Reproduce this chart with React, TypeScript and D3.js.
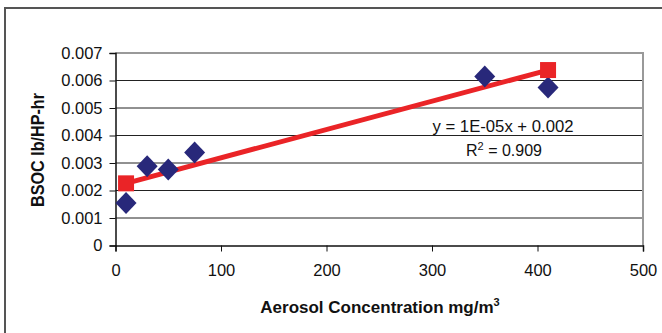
import React, { useEffect, useRef } from 'react';
import * as d3 from 'd3';

const measuredX = [10, 30, 50, 75, 350, 410];
const measuredY = [0.00155, 0.00288, 0.00276, 0.00338, 0.00615, 0.00575];
const fitX = [10, 410];
const fitY = [0.00226, 0.00638];
const xTicks = [0, 100, 200, 300, 400, 500];
const yTicks = [0, 0.001, 0.002, 0.003, 0.004, 0.005, 0.006, 0.007];

export default function App() {
  const svgRef = useRef<SVGSVGElement>(null);

  useEffect(() => {
    const svg = d3.select(svgRef.current);
    svg.selectAll('*').remove();

    const left = 115.5, right = 643, top = 53, bottom = 245.5;
    const x = d3.scaleLinear().domain([0, 500]).range([left, right]);
    const y = d3.scaleLinear().domain([0, 0.007]).range([bottom, top]);
    const font = 'Arial, "Liberation Sans", sans-serif';

    // outer frame
    svg.append('rect')
      .attr('x', 5).attr('y', 8).attr('width', 680).attr('height', 340)
      .attr('fill', 'white').attr('stroke', '#555').attr('stroke-width', 2);

    // gridlines
    svg.append('g').selectAll('line')
      .data(yTicks.slice(1))
      .enter().append('line')
      .attr('x1', left).attr('x2', right)
      .attr('y1', d => y(d)).attr('y2', d => y(d))
      .attr('stroke', '#222').attr('stroke-width', 1);

    // plot border top/right
    svg.append('path')
      .attr('d', `M${left},${top}H${right}V${bottom}`)
      .attr('fill', 'none').attr('stroke', '#999').attr('stroke-width', 2);

    const yAxis = svg.append('g')
      .attr('transform', `translate(${left},0)`)
      .call(d3.axisLeft(y).tickValues(yTicks).tickSize(6).tickPadding(7)
        .tickFormat(d => (d === 0 ? '0' : d3.format('.3f')(d as number))));
    const xAxis = svg.append('g')
      .attr('transform', `translate(0,${bottom})`)
      .call(d3.axisBottom(x).tickValues(xTicks).tickSize(6).tickPadding(13)
        .tickFormat(d3.format('d')));
    [yAxis, xAxis].forEach(a => {
      a.select('.domain').attr('stroke', '#111').attr('stroke-width', 1.5);
      a.selectAll('.tick line').attr('stroke', '#111');
      a.selectAll('text').attr('font-size', 16.5).attr('font-family', font).attr('fill', '#111');
    });

    // fit line
    svg.append('path')
      .datum(fitX.map((v, i) => [v, fitY[i]] as [number, number]))
      .attr('d', d3.line<[number, number]>().x(d => x(d[0])).y(d => y(d[1])))
      .attr('stroke', '#ea2427').attr('stroke-width', 5).attr('fill', 'none');

    // measured points (diamonds)
    svg.append('g').selectAll('path')
      .data(measuredX.map((v, i) => [v, measuredY[i]]))
      .enter().append('path')
      .attr('d', d => {
        const cx = x(d[0]), cy = y(d[1]);
        return `M${cx},${cy - 11}L${cx + 10.5},${cy}L${cx},${cy + 11}L${cx - 10.5},${cy}Z`;
      })
      .attr('fill', '#28287a');

    // fit points (squares)
    svg.append('g').selectAll('rect')
      .data(fitX.map((v, i) => [v, fitY[i]]))
      .enter().append('rect')
      .attr('x', d => x(d[0]) - 8).attr('y', d => y(d[1]) - 8)
      .attr('width', 16).attr('height', 16)
      .attr('fill', '#ea2427');

    // equation
    const eq = svg.append('g').attr('font-family', font).attr('font-size', 16)
      .attr('fill', '#111').attr('text-anchor', 'middle');
    eq.append('text').attr('x', 503).attr('y', 132)
      .attr('textLength', 141).attr('lengthAdjust', 'spacingAndGlyphs')
      .text('y = 1E-05x + 0.002');
    const r2 = eq.append('text').attr('x', 504).attr('y', 156);
    r2.append('tspan').text('R');
    r2.append('tspan').attr('dy', -6).attr('font-size', 11).text('2');
    r2.append('tspan').attr('dy', 6).text(' = 0.909');

    // axis titles
    const xt = svg.append('text').attr('x', 380).attr('y', 313)
      .attr('text-anchor', 'middle').attr('font-family', font)
      .attr('font-weight', 'bold').attr('font-size', 17).attr('fill', '#111');
    xt.append('tspan').text('Aerosol Concentration mg/m');
    xt.append('tspan').attr('dy', -7).attr('font-size', 11).text('3');

    svg.append('text')
      .attr('transform', 'translate(44,150) rotate(-90)')
      .attr('text-anchor', 'middle').attr('font-family', font)
      .attr('font-weight', 'bold').attr('font-size', 18).attr('fill', '#111')
      .attr('textLength', 114).attr('lengthAdjust', 'spacingAndGlyphs')
      .text('BSOC lb/HP-hr');
  }, []);

  return (
    <svg ref={svgRef} width={662} height={333}
      style={{ position: 'absolute', left: 0, top: 0, background: 'white' }} />
  );
}
